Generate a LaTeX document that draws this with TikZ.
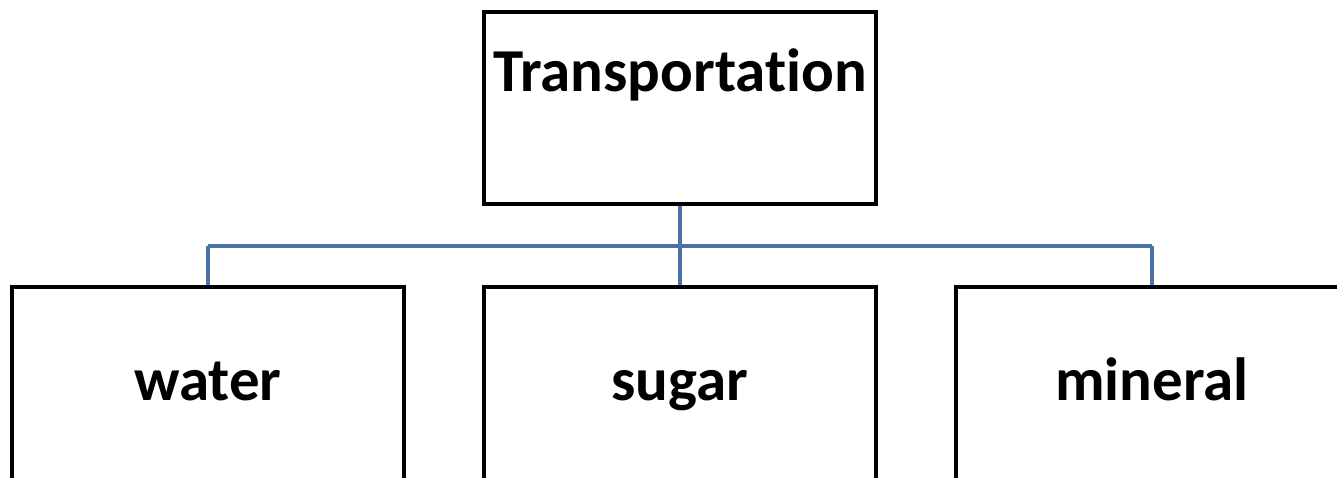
\documentclass[tikz,border=0pt]{standalone}
\usepackage{fontspec}
\setmainfont[Ligatures=NoCommon]{Carlito}
\usetikzlibrary{calc}
\definecolor{linkblue}{HTML}{4A72A8}
\tikzset{
  x=1pt, y=-1pt,
  box/.style={draw=black, line width=3.5pt, fill=white, minimum width=392pt, minimum height=192pt, inner sep=0pt},
  lowbox/.style={box, minimum height=200pt},
  lbl/.style={font=\fontsize{61}{68}\selectfont\bfseries, inner sep=0pt},
  link/.style={draw=linkblue, line width=3.5pt}
}
\begin{document}
\begin{tikzpicture}
\useasboundingbox (0,0) rectangle (1337,478);
\clip (0,0) rectangle (1337,478);
% boxes
\node[box] (top) at (680,108) {};
\node[lowbox] (water) at (208,387) {};
\node[lowbox] (sugar) at (680,387) {};
\node[lowbox] (mineral) at (1152,387) {};
% labels
\node[lbl, anchor=base] (ttop) at (680,92) {Transportation};
\node[lbl, anchor=base] (twater) at (208,400) {water};
\node[lbl, anchor=base] (tsugar) at (680,400) {sugar};
\node[lbl, anchor=base] (tmineral) at (1152,400) {mineral};
% connectors
\coordinate (bus) at (680,246);
\draw[link] (top.south) -- (bus);
\draw[link] (bus) -- (sugar.north);
\draw[link] (bus -| water.north) -- (water.north);
\draw[link] (bus -| mineral.north) -- (mineral.north);
\draw[link] (bus -| water.north) -- (bus -| mineral.north);
\end{tikzpicture}
\end{document}
